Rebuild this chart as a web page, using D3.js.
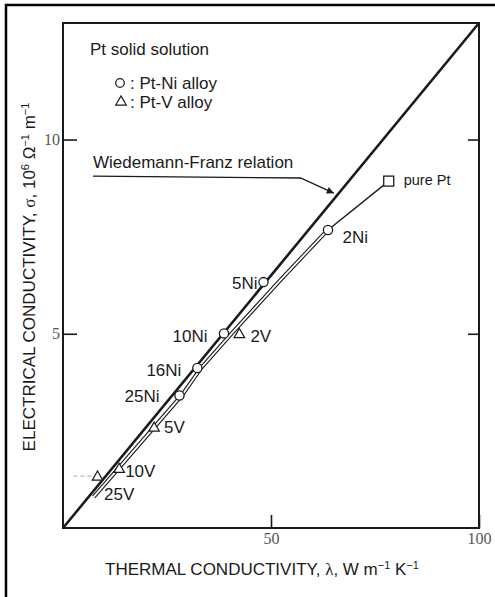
<!DOCTYPE html>
<html lang="en">

<head>
    <meta charset="UTF-8">
    <title>Pt solid solution - Wiedemann-Franz</title>
    <script src="https://cdn.jsdelivr.net/npm/d3@7"></script>
</head>

<body>
    <script>
        // values (lambda in W m-1 K-1, sigma in 1e6 S/m)
        const niNames = ["2Ni", "5Ni", "10Ni", "16Ni", "25Ni"];
        const niLambda = [63.7, 48.2, 38.7, 32.3, 28.0];
        const niSigma = [7.67, 6.33, 5.01, 4.12, 3.41];

        const vNames = ["2V", "5V", "10V", "25V"];
        const vLambda = [42.4, 21.9, 13.5, 8.3];
        const vSigma = [4.98, 2.57, 1.51, 1.31];

        const purePt = { name: "pure Pt", lambda: 78.3, sigma: 8.93 };

        // experimental curve through the alloys
        const curveLambda = [63.6, 51.8, 40.4, 33.2, 28.6, 7.4];
        const curveSigma = [7.67, 6.33, 4.99, 4.12, 3.42, 0.80];

        // Wiedemann-Franz line
        const wfLambda = [0, 100];
        const wfSigma = [0, 13];

        const xTicks = [50, 100];
        const yTicks = [5, 10];

        const width = 495, height = 597;
        const svg = d3.select("body").append("svg").attr("width", width).attr("height", height);
        svg.append("rect").attr("width", width).attr("height", height).attr("fill", "white");

        const x = d3.scaleLinear().domain([0, 100]).range([63, 479]);
        const y = d3.scaleLinear().domain([0, 13]).range([528, 23]);
        const ink = "#1a1a1a";
        const sans = "'Liberation Sans', Arial, sans-serif";
        const serif = "'Liberation Serif', 'Times New Roman', serif";

        // outer border
        svg.append("path").attr("d", `M6,${height} V5 H${width}`)
            .attr("fill", "none").attr("stroke", "black").attr("stroke-width", 2.5);

        // frame
        svg.append("rect")
            .attr("x", x(0)).attr("y", y(13))
            .attr("width", x(100) - x(0)).attr("height", y(0) - y(13))
            .attr("fill", "none").attr("stroke", ink).attr("stroke-width", 2);

        // axes (ticks inward)
        const fmtAxis = g => {
            g.select(".domain").remove();
            g.selectAll("line").attr("stroke", ink).attr("stroke-width", 1.6);
            g.selectAll("text").attr("font-family", serif).attr("font-size", 16).attr("fill", "#555");
        };
        svg.append("g").attr("transform", `translate(0,${y(0)})`)
            .call(d3.axisBottom(x).tickValues(xTicks).tickSizeInner(-13).tickSizeOuter(0).tickPadding(5))
            .call(fmtAxis);
        svg.append("g").attr("transform", `translate(${x(0)},0)`)
            .call(d3.axisLeft(y).tickValues(yTicks).tickSizeInner(-14).tickSizeOuter(0).tickPadding(3))
            .call(fmtAxis);
        svg.append("g").attr("transform", `translate(${x(100)},0)`)
            .call(d3.axisRight(y).tickValues(yTicks).tickSizeInner(-11).tickSizeOuter(0).tickFormat(""))
            .call(fmtAxis);

        const line = d3.line().x(d => x(d[0])).y(d => y(d[1]));

        // WF line
        svg.append("path").datum(d3.zip(wfLambda, wfSigma)).attr("d", line)
            .attr("fill", "none").attr("stroke", ink).attr("stroke-width", 2.6);

        // experimental curve, drawn as a double line
        const curve = d3.zip(curveLambda, curveSigma);
        svg.append("path").datum(curve).attr("d", line)
            .attr("fill", "none").attr("stroke", ink).attr("stroke-width", 4);
        svg.append("path").datum(curve).attr("d", line)
            .attr("fill", "none").attr("stroke", "white").attr("stroke-width", 1.8);

        // pure Pt to 2Ni
        svg.append("path").datum([[purePt.lambda, purePt.sigma], [niLambda[0], niSigma[0]]]).attr("d", line)
            .attr("fill", "none").attr("stroke", ink).attr("stroke-width", 1.4);

        // dashed leader left of 25V
        svg.append("line")
            .attr("x1", x(2.5)).attr("x2", x(7)).attr("y1", y(vSigma[3]) - 1).attr("y2", y(vSigma[3]) - 1)
            .attr("stroke", "#aaa").attr("stroke-width", 1).attr("stroke-dasharray", "4,3");

        // markers
        svg.append("g").selectAll("circle")
            .data(d3.range(niNames.length))
            .join("circle")
            .attr("cx", i => x(niLambda[i])).attr("cy", i => y(niSigma[i])).attr("r", 4.6)
            .attr("fill", "white").attr("stroke", ink).attr("stroke-width", 1.3);

        const tri = d3.symbol(d3.symbolTriangle, 48);
        svg.append("g").selectAll("path")
            .data(d3.range(vNames.length))
            .join("path")
            .attr("transform", i => `translate(${x(vLambda[i])},${y(vSigma[i])})`)
            .attr("d", tri)
            .attr("fill", "white").attr("stroke", ink).attr("stroke-width", 1.2);

        svg.append("rect")
            .attr("x", x(purePt.lambda) - 5).attr("y", y(purePt.sigma) - 5)
            .attr("width", 10).attr("height", 10)
            .attr("fill", "white").attr("stroke", ink).attr("stroke-width", 1.3);

        // point labels
        const labelOffset = {
            "2Ni": [14.5, 13, "start"], "5Ni": [-6, 7, "end"], "10Ni": [-16.5, 8.5, "end"],
            "16Ni": [-16, 8, "end"], "25Ni": [-20, 6.5, "end"],
            "2V": [11, 7.5, "start"], "5V": [10, 5, "start"], "10V": [6, 7.5, "start"], "25V": [6.5, 23, "start"]
        };
        const labels = niNames.map((n, i) => [n, niLambda[i], niSigma[i]])
            .concat(vNames.map((n, i) => [n, vLambda[i], vSigma[i]]));
        svg.append("g").selectAll("text")
            .data(labels)
            .join("text")
            .attr("x", d => x(d[1]) + labelOffset[d[0]][0])
            .attr("y", d => y(d[2]) + labelOffset[d[0]][1])
            .attr("text-anchor", d => labelOffset[d[0]][2])
            .attr("font-family", sans).attr("font-size", 17).attr("fill", ink)
            .text(d => d[0]);

        svg.append("text")
            .attr("x", x(purePt.lambda) + 15).attr("y", y(purePt.sigma) + 4)
            .attr("font-family", sans).attr("font-size", 14.5).attr("fill", ink)
            .text(purePt.name);

        // legend
        svg.append("text").attr("x", 90).attr("y", 55)
            .attr("font-family", sans).attr("font-size", 17).attr("fill", ink)
            .text("Pt solid solution");
        svg.append("circle").attr("cx", 120).attr("cy", 83).attr("r", 4.3)
            .attr("fill", "white").attr("stroke", ink).attr("stroke-width", 1.2);
        svg.append("path").attr("transform", "translate(121,102)").attr("d", tri)
            .attr("fill", "white").attr("stroke", ink).attr("stroke-width", 1.2);
        svg.append("text").attr("x", 130).attr("y", 89)
            .attr("font-family", sans).attr("font-size", 17).attr("fill", ink)
            .text(": Pt-Ni alloy");
        svg.append("text").attr("x", 130).attr("y", 108)
            .attr("font-family", sans).attr("font-size", 17).attr("fill", ink)
            .text(": Pt-V alloy");

        // Wiedemann-Franz annotation
        svg.append("defs").append("marker")
            .attr("id", "arrow").attr("viewBox", "0 0 10 10")
            .attr("refX", 10).attr("refY", 5)
            .attr("markerWidth", 9).attr("markerHeight", 7)
            .attr("markerUnits", "userSpaceOnUse")
            .attr("orient", "auto")
            .append("path").attr("d", "M0,0 L10,5 L0,10 z").attr("fill", ink);
        svg.append("text").attr("x", 93).attr("y", 168)
            .attr("font-family", sans).attr("font-size", 17).attr("fill", ink)
            .text("Wiedemann-Franz relation");
        svg.append("path").datum([[7.2, 9.06], [57.1, 9.01], [65.1, 8.62]]).attr("d", line)
            .attr("fill", "none").attr("stroke", ink).attr("stroke-width", 1.3)
            .attr("marker-end", "url(#arrow)");

        // axis titles
        const xt = svg.append("text").attr("x", 262).attr("y", 575).attr("text-anchor", "middle")
            .attr("font-family", sans).attr("font-size", 17).attr("fill", ink);
        xt.append("tspan").text("THERMAL CONDUCTIVITY, ");
        xt.append("tspan").attr("font-family", serif).text("λ");
        xt.append("tspan").text(", W m");
        xt.append("tspan").attr("dy", -6).attr("font-size", 11).text("−1");
        xt.append("tspan").attr("dy", 6).text(" K");
        xt.append("tspan").attr("dy", -6).attr("font-size", 11).text("−1");

        const yt = svg.append("text").attr("transform", "translate(35,277) rotate(-90)").attr("text-anchor", "middle")
            .attr("font-family", sans).attr("font-size", 17).attr("fill", ink);
        yt.append("tspan").text("ELECTRICAL CONDUCTIVITY, ");
        yt.append("tspan").attr("font-family", serif).text("σ");
        yt.append("tspan").text(", 10");
        yt.append("tspan").attr("dy", -6).attr("font-size", 11).text("6");
        yt.append("tspan").attr("dy", 6).text(" Ω");
        yt.append("tspan").attr("dy", -6).attr("font-size", 11).text("−1");
        yt.append("tspan").attr("dy", 6).text(" m");
        yt.append("tspan").attr("dy", -6).attr("font-size", 11).text("−1");
    </script>
    <style>
        * {
            margin: 0;
            padding: 0;
        }
    </style>
</body>

</html>
